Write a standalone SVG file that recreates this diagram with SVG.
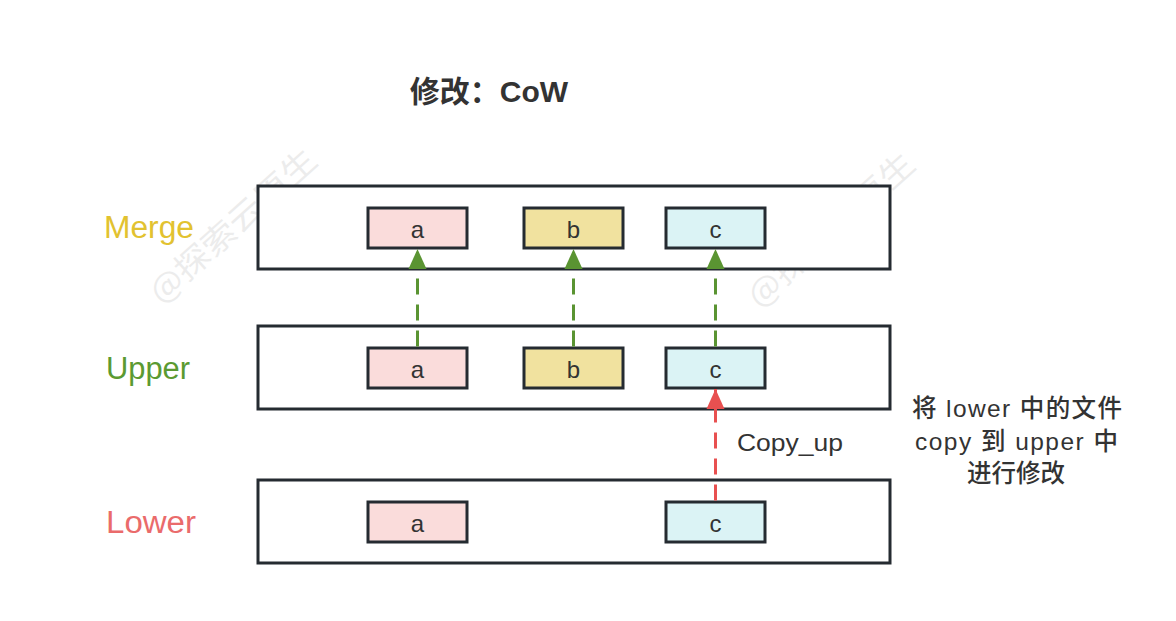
<svg xmlns="http://www.w3.org/2000/svg" width="1176" height="621" viewBox="0 0 1176 621">
<style>
.wm{font-family:"Noto Sans CJK SC",sans-serif;font-size:32px;fill:#000;opacity:0.07;}
.layer{fill:#ffffff;stroke:#252b31;stroke-width:3;}
.file{stroke:#252b31;stroke-width:3;}
.fa{fill:#fadcdb;}
.fb{fill:#f1e29f;}
.fc{fill:#dbf3f5;}
.ft{font-family:"Liberation Sans","Noto Sans CJK SC",sans-serif;font-size:24px;fill:#333333;text-anchor:middle;}
.lbl{font-family:"Liberation Sans",sans-serif;font-size:31px;}
.txt{font-family:"Liberation Sans","Noto Sans CJK SC",sans-serif;font-size:24.5px;font-weight:500;fill:#333333;}
.g{stroke:#5a9432;stroke-width:3;stroke-dasharray:16 10;fill:none;}
.r{stroke:#e85050;stroke-width:3;stroke-dasharray:16 10;fill:none;}
</style>
<defs>
<marker id="ag" viewBox="0 0 20 20" refX="20" refY="10" markerWidth="20" markerHeight="20" markerUnits="userSpaceOnUse" orient="auto">
<path d="M0,1 L20,10 L0,19 Z" fill="#5a9432"/>
</marker>
<marker id="ar" viewBox="0 0 20 20" refX="20" refY="10" markerWidth="20" markerHeight="20" markerUnits="userSpaceOnUse" orient="auto">
<path d="M0,1 L20,10 L0,19 Z" fill="#e85050"/>
</marker>
</defs>
<rect width="1176" height="621" fill="#ffffff"/>
<g id="watermarks">
<text class="wm" transform="translate(233,226) rotate(-42)" text-anchor="middle" textLength="212" lengthAdjust="spacingAndGlyphs" dy="11">@探索云原生</text>
<text class="wm" transform="translate(831,230) rotate(-42)" text-anchor="middle" textLength="212" lengthAdjust="spacingAndGlyphs" dy="11">@探索云原生</text>
</g>
<g id="title">
<text x="489" y="102" text-anchor="middle" style="font-family:'Liberation Sans','Noto Sans CJK SC',sans-serif;font-size:30px;font-weight:bold;fill:#333333;">修改：CoW</text>
</g>
<g id="labels">
<text class="lbl" x="104" y="238" fill="#e2c230" textLength="90" lengthAdjust="spacingAndGlyphs">Merge</text>
<text class="lbl" x="106" y="379" fill="#5b9a31" textLength="84" lengthAdjust="spacingAndGlyphs">Upper</text>
<text class="lbl" x="106" y="533" fill="#ea6b6b" textLength="90" lengthAdjust="spacingAndGlyphs">Lower</text>
</g>
<g id="merge">
<rect class="layer" x="258" y="186" width="632" height="83"/>
<g id="merge-a"><rect class="file fa" x="368" y="208" width="99" height="40"/><text class="ft" x="417.5" y="238">a</text></g>
<g id="merge-b"><rect class="file fb" x="524" y="208" width="99" height="40"/><text class="ft" x="573.5" y="238">b</text></g>
<g id="merge-c"><rect class="file fc" x="666" y="208" width="99" height="40"/><text class="ft" x="715.5" y="238">c</text></g>
</g>
<g id="upper">
<rect class="layer" x="258" y="326" width="632" height="83"/>
<g id="upper-a"><rect class="file fa" x="368" y="348" width="99" height="40"/><text class="ft" x="417.5" y="378">a</text></g>
<g id="upper-b"><rect class="file fb" x="524" y="348" width="99" height="40"/><text class="ft" x="573.5" y="378">b</text></g>
<g id="upper-c"><rect class="file fc" x="666" y="348" width="99" height="40"/><text class="ft" x="715.5" y="378">c</text></g>
</g>
<g id="lower">
<rect class="layer" x="258" y="480" width="632" height="83"/>
<g id="lower-a"><rect class="file fa" x="368" y="502" width="99" height="40"/><text class="ft" x="417.5" y="532">a</text></g>
<g id="lower-c"><rect class="file fc" x="666" y="502" width="99" height="40"/><text class="ft" x="715.5" y="532">c</text></g>
</g>
<g id="connectors">
<line class="g" x1="417.5" y1="346.5" x2="417.5" y2="249" marker-end="url(#ag)"/>
<line class="g" x1="573.5" y1="346.5" x2="573.5" y2="249" marker-end="url(#ag)"/>
<line class="g" x1="715.5" y1="346.5" x2="715.5" y2="249" marker-end="url(#ag)"/>
<line class="r" x1="715.5" y1="500.5" x2="715.5" y2="389" marker-end="url(#ar)"/>
</g>
<g id="notes">
<text class="txt" x="737" y="451" font-size="25" textLength="106" lengthAdjust="spacingAndGlyphs">Copy_up</text>
<text class="txt" x="912" y="417" textLength="210" lengthAdjust="spacing">将 lower 中的文件</text>
<text class="txt" x="915" y="450" textLength="203" lengthAdjust="spacing">copy 到 upper 中</text>
<text class="txt" x="967" y="482" textLength="98" lengthAdjust="spacing">进行修改</text>
</g>
</svg>
